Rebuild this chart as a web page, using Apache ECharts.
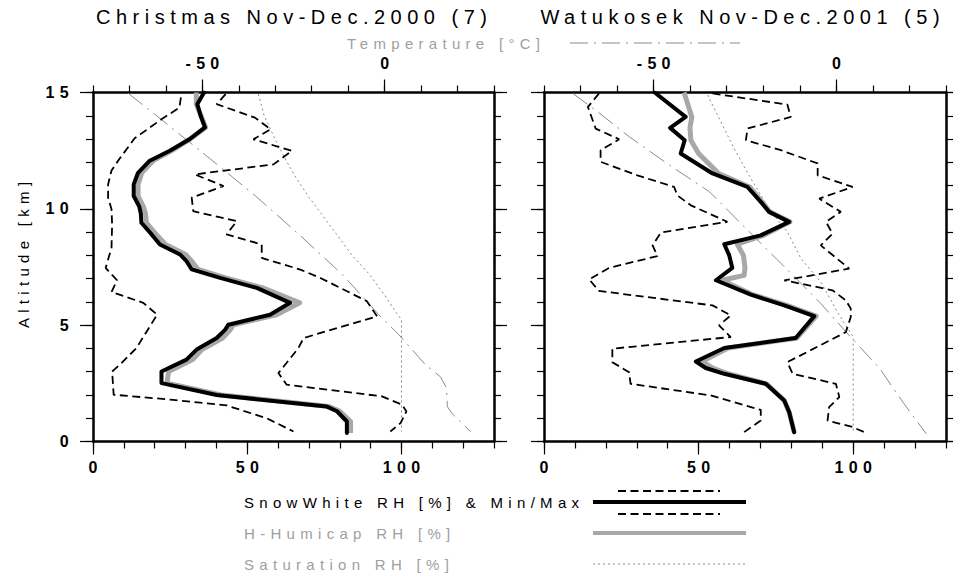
<!DOCTYPE html>
<html>
<head>
<meta charset="utf-8">
<script src="https://cdn.jsdelivr.net/npm/echarts@6.0.0/dist/echarts.min.js"></script>
<style>
html,body{margin:0;padding:0;background:#fff;}
#chart{width:953px;height:573px;}
#chart text{letter-spacing:5.3px;}
#chart text[style*="20px"]{letter-spacing:5.5px;}
</style>
</head>
<body>
<div id="chart"></div>
<script>
// ---------------- DATA ----------------
// tick positions / labels
const rhTicks = [0,10,20,30,40,50,60,70,80,90,100,110,120,130];
const rhLabels = [0,50,100];
const tempTicks = [-80,-70,-60,-50,-40,-30,-20,-10,0,10,20,30];
const tempLabels = [-50,0];
const altTicks = [0,1,2,3,4,5,6,7,8,9,10,11,12,13,14,15];
const altLabels = [0,5,10,15];

const titles = ['Christmas Nov-Dec.2000 (7)', 'Watukosek Nov-Dec.2001 (5)'];

// Christmas: [RH %, altitude km]
const christmasMean = [[36.0,15.0],[33.8,14.5],[34.9,14.0],[36.3,13.5],[31.4,13.0],[24.9,12.5],[18.4,12.07],[14.6,11.55],[13.2,11.05],[13.2,10.55],[15.0,10.1],[15.5,9.8],[15.7,9.4],[19.0,8.9],[21.7,8.47],[28.2,8.04],[30.3,7.75],[32.0,7.4],[41.2,7.03],[53.1,6.6],[63.9,5.96],[57.4,5.45],[43.9,5.02],[42.8,4.8],[40.1,4.45],[33.6,3.95],[30.3,3.52],[22.2,3.01],[22.2,2.51],[40.1,2.0],[75.8,1.5],[79.1,1.3],[82.3,0.86],[82.3,0.36]];
const christmasHumicap = [[33.5,15.0],[33.5,14.5],[35.0,14.0],[36.5,13.5],[31.5,13.0],[25.5,12.5],[19.5,12.07],[15.8,11.55],[14.6,11.05],[14.6,10.55],[16.3,10.1],[17.0,9.8],[17.3,9.4],[20.5,8.9],[23.5,8.47],[30.0,8.04],[32.0,7.75],[34.0,7.4],[43.0,7.03],[55.0,6.6],[67.0,5.96],[59.5,5.45],[45.5,5.02],[44.5,4.8],[42.0,4.45],[35.3,3.95],[32.3,3.52],[24.5,3.01],[24.0,2.51],[41.5,2.0],[76.5,1.5],[80.0,1.3],[83.5,0.86],[83.5,0.36]];
const christmasMin = [[28.5,14.79],[28.0,14.35],[22.2,13.85],[13.5,13.03],[8.7,12.17],[6.0,11.65],[4.9,11.05],[4.9,10.48],[6.0,9.98],[6.2,9.33],[6.0,8.33],[4.1,7.46],[7.8,6.93],[6.0,6.43],[16.3,5.96],[20.8,5.45],[14.1,4.02],[8.7,3.3],[6.2,3.01],[6.7,2.01],[26.0,1.79],[43.3,1.55],[56.3,1.0],[65.0,0.43]];
const christmasMax = [[43.0,14.93],[40.1,14.5],[52.5,13.92],[57.6,13.42],[52.0,12.99],[64.5,12.49],[58.5,11.91],[33.0,11.48],[42.3,10.98],[32.0,10.48],[32.5,9.9],[46.6,9.47],[43.3,8.9],[54.7,8.47],[54.7,7.89],[67.2,7.39],[73.7,7.03],[88.8,6.03],[92.1,5.38],[68.3,4.45],[66.5,4.0],[60.1,2.94],[62.8,2.44],[93.7,1.94],[100.2,1.58],[101.6,1.29],[99.7,0.79],[96.4,0.43]];
const christmasSat = [[53.6,14.93],[55.5,14.0],[59.0,13.0],[62.5,12.1],[66.0,11.3],[70.0,10.5],[74.5,9.7],[79.0,8.9],[84.0,8.0],[89.5,7.2],[94.5,6.3],[98.5,5.5],[100,5.24],[100,0.43]];
// [temperature degC, altitude km]
const christmasTemp = [[-70.3,14.96],[-61.9,13.92],[-47.7,12.13],[-35.4,10.55],[-23.5,8.9],[-11.6,7.18],[-1.6,5.45],[3.9,4.59],[11.2,3.3],[15.3,2.78],[17.0,2.3],[17.2,1.5],[18.5,1.2],[23.6,0.42]];

// Watukosek
const watukosekMean = [[35.8,15.0],[45.8,13.95],[40.8,13.48],[45.5,12.95],[44.2,12.38],[54.5,11.52],[65.8,10.94],[70.1,10.3],[72.8,9.87],[79.3,9.44],[70.1,8.86],[58.3,8.48],[59.9,8.0],[60.9,7.46],[55.6,6.93],[66.9,6.31],[77.7,5.85],[87.4,5.39],[81.4,4.45],[58.3,4.02],[49.1,3.44],[52.3,3.16],[58.3,2.91],[71.7,2.48],[77.7,1.76],[79.3,1.26],[80.9,0.4]];
const watukosekHumicap = [[45.3,15.0],[47.8,13.95],[47.2,13.48],[47.5,12.95],[50.0,12.38],[56.5,11.52],[66.5,10.94],[70.5,10.3],[73.0,9.87],[79.5,9.44],[71.0,8.86],[62.5,8.48],[64.5,8.0],[65.0,7.46],[64.7,7.14],[57.5,6.93],[67.5,6.31],[78.5,5.85],[88.0,5.39],[81.8,4.45],[59.5,4.02],[51.0,3.44],[54.5,3.16],[59.5,2.91],[72.0,2.48],[77.7,1.76],[79.3,1.26],[80.9,0.4]];
const watukosekMin = [[17.8,14.96],[14.2,14.38],[16.7,13.45],[24.3,12.99],[18.3,12.52],[18.3,12.02],[30.2,11.44],[42.1,10.94],[43.1,10.58],[47.5,10.15],[59.3,9.44],[37.8,8.98],[35.1,8.43],[36.7,7.97],[21.0,7.46],[14.6,6.97],[17.8,6.47],[54.5,5.85],[60.4,5.42],[56.6,4.99],[60.4,4.49],[22.1,3.99],[22.1,3.41],[27.5,2.98],[28.0,2.48],[53.9,1.98],[70.1,1.36],[70.1,0.9],[64.7,0.4]];
const watukosekMax = [[54.5,14.96],[78.7,14.48],[79.8,13.95],[65.8,13.45],[65.3,12.95],[76.6,12.52],[88.5,11.95],[88.5,11.44],[99.8,10.94],[89.0,10.44],[96.0,9.87],[91.2,9.44],[93.3,8.93],[89.5,8.43],[98.7,7.43],[77.7,6.93],[93.3,6.5],[97.6,6.07],[99.2,5.71],[99.2,5.35],[97.6,4.7],[78.7,3.41],[80.4,2.91],[94.4,2.48],[95.5,1.91],[92.2,1.48],[91.7,0.9],[99.8,0.62],[103.6,0.4]];
const watukosekSat = [[52.9,14.89],[56.1,14.03],[61.5,12.59],[66.9,11.3],[73.4,9.87],[78.7,9.01],[83.1,7.86],[89.5,6.86],[94.9,5.56],[100,4.49],[100,0.47]];
const watukosekTemp = [[-72.1,14.96],[-65.3,14.17],[-56.6,13.09],[-45.6,11.87],[-34.7,10.73],[-25.6,9.29],[-18.3,8.15],[-11.0,7.0],[-4.6,5.99],[2.7,4.7],[11.9,3.13],[18.2,1.69],[24.6,0.33]];

const panelsData = [
  {mean: christmasMean, humicap: christmasHumicap, min: christmasMin, max: christmasMax, sat: christmasSat, temp: christmasTemp},
  {mean: watukosekMean, humicap: watukosekHumicap, min: watukosekMin, max: watukosekMax, sat: watukosekSat, temp: watukosekTemp}
];

// ---------------- LAYOUT / STYLE ----------------
const FONT = "'Liberation Sans', Arial, Helvetica, sans-serif";
const GRAY_TXT = '#a0a0a0';
const LS = 5.3;       // letter spacing applied by CSS
const LS_TITLE = 5.5; // letter spacing for 20px titles
const GRID_TOP = 92.5, GRID_H = 349;
const panels = [{left: 93, width: 401, yLabels: true}, {left: 544, width: 402, yLabels: false}];

const AXIS_LINE = {show: true, onZero: false, lineStyle: {color: '#000', width: 2.5}};
const NO_LINE = {show: false, onZero: false};
const TICK_STYLE = {color: '#000', width: 1.2};
const LABEL_BASE = {color: '#000', fontSize: 16, fontWeight: 'bold', fontFamily: FONT};

function mkAxis(p, pos, min, max, ticks, labels, major, showLabels, margin, extraLabel) {
  return {
    gridIndex: p, type: 'value', position: pos, min: min, max: max,
    axisLine: major ? NO_LINE : AXIS_LINE,
    axisTick: {show: true, inside: false, length: major ? 13 : 7, customValues: major ? labels : ticks, lineStyle: TICK_STYLE},
    minorTick: {show: false}, splitLine: {show: false}, splitArea: {show: false},
    axisLabel: (!major && showLabels)
      ? Object.assign({show: true, customValues: labels, margin: margin}, LABEL_BASE, extraLabel || {})
      : {show: false},
    silent: true
  };
}

const grids = [], xAxes = [], yAxes = [], series = [];
panels.forEach((pn, p) => {
  grids.push({left: pn.left, top: GRID_TOP, width: pn.width, height: GRID_H, containLabel: false});
  xAxes.push(mkAxis(p, 'bottom', 0, 130, rhTicks, rhLabels, false, true, 18, {padding: [0, 0, 0, LS]}));
  xAxes.push(mkAxis(p, 'bottom', 0, 130, rhTicks, rhLabels, true));
  xAxes.push(mkAxis(p, 'top', -80, 30, tempTicks, tempLabels, false, true, 21, {padding: [0, 0, 0, LS]}));
  xAxes.push(mkAxis(p, 'top', -80, 30, tempTicks, tempLabels, true));
  yAxes.push(mkAxis(p, 'left', 0, 15, altTicks, altLabels, false, pn.yLabels, 19));
  yAxes.push(mkAxis(p, 'left', 0, 15, altTicks, altLabels, true));
  yAxes.push(mkAxis(p, 'right', 0, 15, altTicks, altLabels, false, false, 10));
  yAxes.push(mkAxis(p, 'right', 0, 15, altTicks, altLabels, true));

  const d = panelsData[p];
  const rhX = p * 4, tX = p * 4 + 2, yI = p * 4;
  const base = {type: 'line', symbol: 'none', showSymbol: false, silent: true, animation: false, yAxisIndex: yI, clip: true};
  series.push(Object.assign({}, base, {name: 'Saturation RH [%]', xAxisIndex: rhX, data: d.sat,
    lineStyle: {color: '#8a8a8a', width: 1, type: [2, 3]}}));
  series.push(Object.assign({}, base, {name: 'Temperature [°C]', xAxisIndex: tX, data: d.temp,
    lineStyle: {color: '#8a8a8a', width: 1, type: [18, 6, 2, 6]}}));
  series.push(Object.assign({}, base, {name: 'Min', xAxisIndex: rhX, data: d.min,
    lineStyle: {color: '#000', width: 1.8, type: [8, 4.5]}}));
  series.push(Object.assign({}, base, {name: 'Max', xAxisIndex: rhX, data: d.max,
    lineStyle: {color: '#000', width: 1.8, type: [8, 4.5]}}));
  series.push(Object.assign({}, base, {name: 'H-Humicap RH [%]', xAxisIndex: rhX, data: d.humicap,
    lineStyle: {color: '#a8a8a8', width: 5, join: 'round'}}));
  series.push(Object.assign({}, base, {name: 'SnowWhite RH [%]', xAxisIndex: rhX, data: d.mean,
    lineStyle: {color: '#000', width: 4, join: 'round', cap: 'round'}}));
});

function txt(x, y, text, size, color, align, extra) {
  return Object.assign({type: 'text', x: x, y: y, silent: true,
    style: {text: text, fontSize: size, fontFamily: FONT, fill: color, textAlign: align, textVerticalAlign: 'middle'}}, extra || {});
}
function seg(x1, x2, y, stroke, width, dash) {
  return {type: 'line', silent: true, shape: {x1: x1, y1: y, x2: x2, y2: y},
    style: {stroke: stroke, lineWidth: width, lineDash: dash || null, lineCap: 'butt'}};
}

const graphics = [
  txt(291.5 + LS_TITLE / 2, 16.7, titles[0], 20, '#000', 'center'),
  txt(740 + LS_TITLE / 2, 16.7, titles[1], 20, '#000', 'center'),
  txt(347, 43, 'Temperature [°C]', 15, GRAY_TXT, 'left'),
  seg(570, 740, 43, '#8a8a8a', 1, [18, 6, 2, 6]),
  txt(23, 255 - LS / 2, 'Altitude [km]', 15, '#000', 'center', {rotation: Math.PI / 2}),
  txt(244, 502, 'SnowWhite RH [%] & Min/Max', 15, '#000', 'left'),
  seg(593, 746, 502, '#000', 4),
  seg(618, 720, 491, '#000', 1.8, [8, 4.5]),
  seg(618, 720, 514, '#000', 1.8, [8, 4.5]),
  txt(244, 533, 'H-Humicap RH [%]', 15, GRAY_TXT, 'left'),
  seg(593, 746, 533, '#a8a8a8', 4),
  txt(244, 564, 'Saturation RH [%]', 15, GRAY_TXT, 'left'),
  seg(593, 746, 564, '#8a8a8a', 1, [2, 3])
];

const chart = echarts.init(document.getElementById('chart'), null, {renderer: 'svg', width: 953, height: 573});
chart.setOption({
  animation: false,
  backgroundColor: '#fff',
  grid: grids,
  xAxis: xAxes,
  yAxis: yAxes,
  series: series,
  graphic: graphics
});
</script>
</body>
</html>
